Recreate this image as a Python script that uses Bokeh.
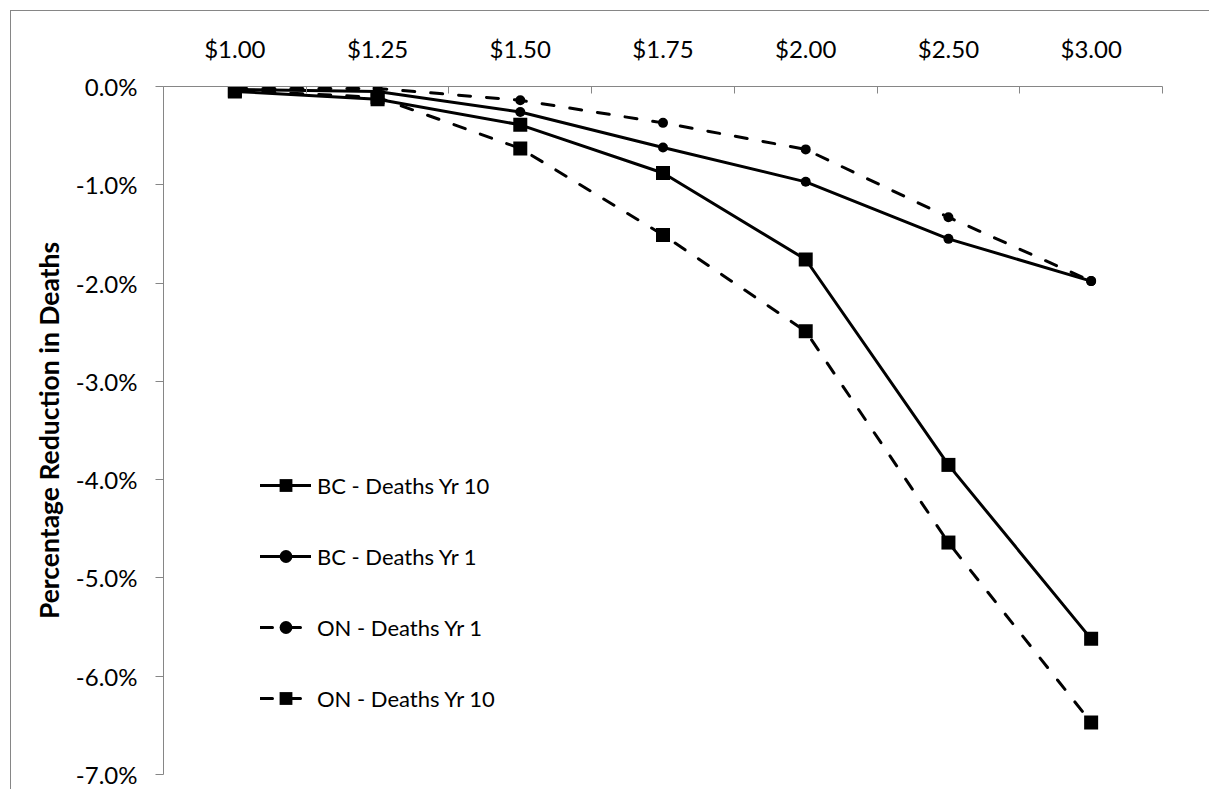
from bokeh.plotting import figure
from bokeh.models import (ColumnDataSource, Range1d, FixedTicker, PrintfTickFormatter,
                          Legend, LegendItem)
from bokeh.embed import file_html
from bokeh.resources import INLINE

# ---- data (percentage change in deaths) ----
prices = ["$1.00", "$1.25", "$1.50", "$1.75", "$2.00", "$2.50", "$3.00"]
bc_yr10 = [-0.05, -0.13, -0.39, -0.88, -1.76, -3.85, -5.62]
bc_yr1 = [-0.03, -0.05, -0.26, -0.62, -0.97, -1.55, -1.98]
on_yr1 = [-0.02, -0.02, -0.14, -0.37, -0.64, -1.33, -1.98]
on_yr10 = [-0.04, -0.11, -0.63, -1.51, -2.49, -4.64, -6.47]
y_ticks = [0, -1, -2, -3, -4, -5, -6, -7]

FONT = "Lato"
AXIS_GRAY = "#868686"

xpos = list(range(len(prices)))
src = ColumnDataSource(dict(x=xpos, bc10=bc_yr10, bc1=bc_yr1, on1=on_yr1, on10=on_yr10))

p = figure(width=1199, height=779, output_backend="svg", toolbar_location=None,
           x_axis_location="above",
           x_range=Range1d(-0.5, len(prices) - 0.5), y_range=Range1d(-7, 0),
           min_border_left=152, min_border_top=75, min_border_right=48, min_border_bottom=16)
p.margin = (11, 0, 0, 11)
# chart-area border: only its left and top edges fall inside the view
p.styles = {"box-shadow": "-1px -1px 0px 0px #868686"}
p.outline_line_color = None
p.xgrid.grid_line_color = None
p.ygrid.grid_line_color = None
p.background_fill_color = "white"
p.border_fill_color = "white"

# x axis (top)
xa = p.xaxis[0]
xa.ticker = FixedTicker(ticks=xpos, minor_ticks=[i - 0.5 for i in range(len(prices) + 1)])
xa.major_label_overrides = {i: lab for i, lab in zip(xpos, prices)}
xa.major_tick_in = 0
xa.major_tick_out = 0
xa.minor_tick_in = 7
xa.minor_tick_out = 0
xa.minor_tick_line_color = AXIS_GRAY
xa.axis_line_color = AXIS_GRAY
xa.major_label_text_font = FONT
xa.major_label_text_font_size = "24px"
xa.major_label_text_color = "black"
xa.major_label_standoff = 24

# y axis
ya = p.yaxis[0]
ya.ticker = FixedTicker(ticks=y_ticks, minor_ticks=[])
ya.formatter = PrintfTickFormatter(format="%.1f%%")
ya.major_tick_in = 0
ya.major_tick_out = 8
ya.major_tick_line_color = AXIS_GRAY
ya.axis_line_color = AXIS_GRAY
ya.major_label_text_font = FONT
ya.major_label_text_font_size = "24px"
ya.major_label_text_color = "black"
ya.major_label_standoff = 18
ya.axis_label = "Percentage Reduction in Deaths"
ya.axis_label_text_font = FONT
ya.axis_label_text_font_size = "26.5px"
ya.axis_label_text_font_style = "bold"
ya.axis_label_text_color = "black"
ya.axis_label_standoff = 8

DASH = "12 16"
LW = 3

def series(col, dashed, marker, size):
    kw = dict(line_color="black", line_width=LW, line_cap="round")
    if dashed:
        kw["line_dash"] = DASH
    ln = p.line("x", col, source=src, **kw)
    sc = p.scatter("x", col, source=src, marker=marker, size=size,
                   fill_color="black", line_color="black", line_width=0)
    return [ln, sc]

r_on10 = series("on10", True, "square", 14)
r_on1 = series("on1", True, "circle", 10)
r_bc1 = series("bc1", False, "circle", 10)
r_bc10 = series("bc10", False, "square", 14)

legend = Legend(items=[
    LegendItem(label="BC - Deaths Yr 10", renderers=r_bc10),
    LegendItem(label="BC - Deaths Yr 1", renderers=r_bc1),
    LegendItem(label="ON - Deaths Yr 1", renderers=r_on1),
    LegendItem(label="ON - Deaths Yr 10", renderers=r_on10),
], location=(97, 60))
legend.glyph_width = 51
legend.glyph_height = 32
legend.label_height = 32
legend.spacing = 39
legend.padding = 0
legend.margin = 0
legend.label_standoff = 6
legend.label_text_font = FONT
legend.label_text_font_size = "22px"
legend.label_text_color = "black"
legend.border_line_color = None
legend.background_fill_alpha = 0
p.add_layout(legend)

open("out.html", "w").write(file_html(p, INLINE))
